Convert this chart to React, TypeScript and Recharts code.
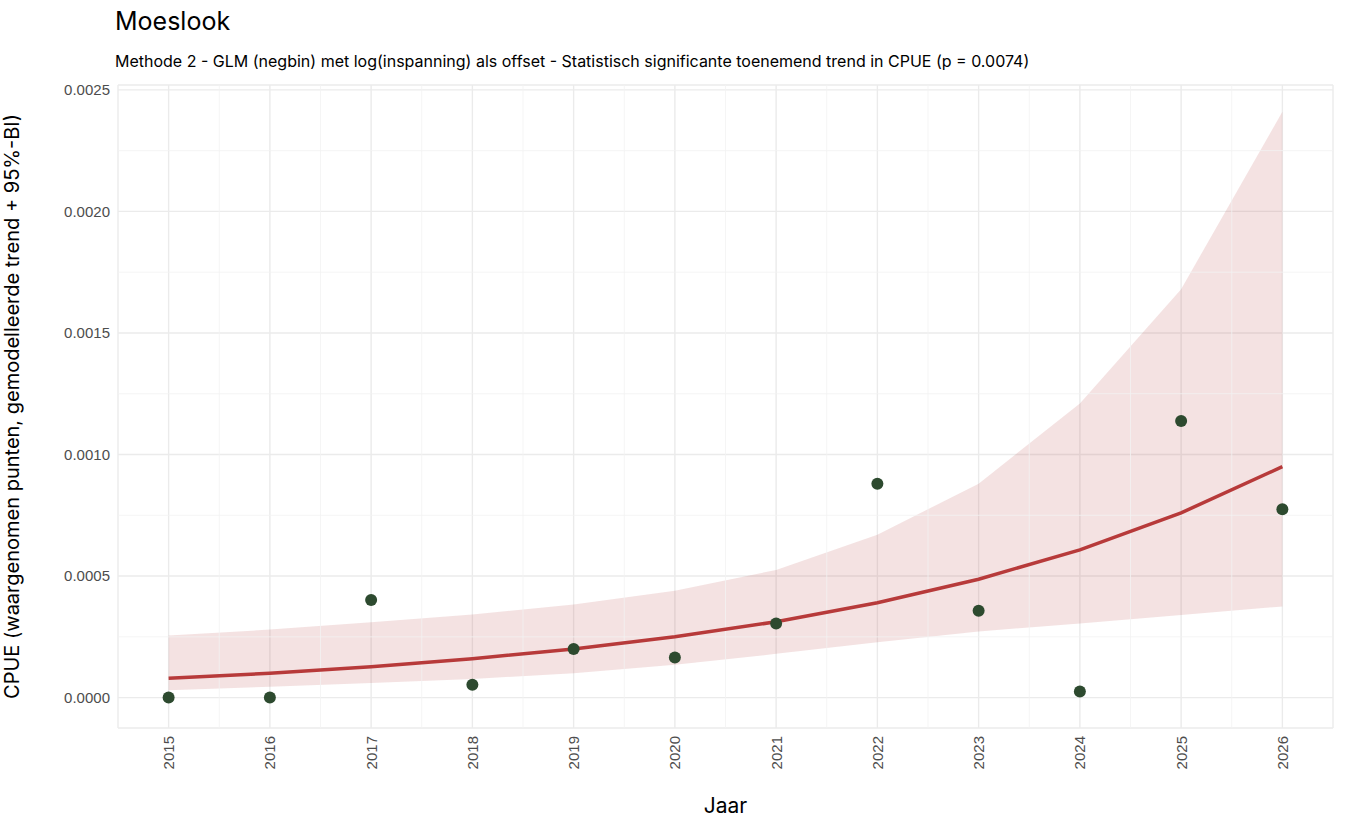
import React from "react";
import { ComposedChart, Area, Line, Scatter, XAxis, YAxis, CartesianGrid, ReferenceLine } from "recharts";

const years = [2015, 2016, 2017, 2018, 2019, 2020, 2021, 2022, 2023, 2024, 2025, 2026];
const observed = [0, 0, 0.000402, 0.000053, 0.0002, 0.000165, 0.000305, 0.00088, 0.000357, 0.000025, 0.001138, 0.000775];
const trend = [0.00008, 0.0001, 0.000127, 0.00016, 0.0002, 0.00025, 0.000312, 0.00039, 0.000487, 0.000608, 0.00076, 0.00095];
const lower = [0.00003, 0.000045, 0.00006, 0.000077, 0.0001, 0.000135, 0.00018, 0.000228, 0.000272, 0.000305, 0.00034, 0.000375];
const upper = [0.000255, 0.00028, 0.00031, 0.000342, 0.000383, 0.00044, 0.000525, 0.00067, 0.00088, 0.00121, 0.00168, 0.00241];
const yTicks = [0, 0.0005, 0.001, 0.0015, 0.002, 0.0025];
const xMinor = [2015.5, 2016.5, 2017.5, 2018.5, 2019.5, 2020.5, 2021.5, 2022.5, 2023.5, 2024.5, 2025.5];
const yMinor = [0.00025, 0.00075, 0.00125, 0.00175, 0.00225];

const data = years.map((y, i) => ({ year: y, obs: observed[i], trend: trend[i], band: [lower[i], upper[i]] }));

const XTick = (p: any) => (
  <text x={p.x} y={p.y} transform={`rotate(-90 ${p.x} ${p.y})`} textAnchor="end" dominantBaseline="central" fontSize={15} fill="#4d4d4d">{p.payload.value}</text>
);

export default function App() {
  const font = "'Liberation Sans', Arial, sans-serif";
  const wide = "Inter, 'Liberation Sans', sans-serif";
  return (
    <div style={{ position: "absolute", left: 0, top: 0, width: 1350, height: 825, background: "#fff", fontFamily: font }}>
      <div style={{ position: "absolute", left: 115, top: 6, fontSize: 25, color: "#000", fontFamily: wide }}>Moeslook</div>
      <div style={{ position: "absolute", left: 115, top: 51, fontSize: 16, color: "#000", fontFamily: wide }}>Methode 2 - GLM (negbin) met log(inspanning) als offset - Statistisch significante toenemend trend in CPUE (p = 0.0074)</div>
      <ComposedChart width={1350} height={825} data={data} margin={{ top: 85, right: 17, bottom: 0, left: 0 }} style={{ fontFamily: font }}>
        <CartesianGrid stroke="#ebebeb" strokeWidth={1.4} />
        {xMinor.map((x) => <ReferenceLine key={"x" + x} x={x} stroke="#f3f3f3" strokeWidth={0.8} />)}
        {yMinor.map((y) => <ReferenceLine key={"y" + y} y={y} stroke="#f3f3f3" strokeWidth={0.8} />)}
        <XAxis dataKey="year" type="number" domain={[2014.5, 2026.5]} ticks={years} axisLine={false} tickLine={false} tick={<XTick />} height={97}
          label={{ value: "Jaar", position: "insideBottom", offset: 12, fontSize: 21, fill: "#000", fontFamily: wide }} />
        <YAxis type="number" domain={[-0.000125, 0.00252]} ticks={yTicks} allowDataOverflow axisLine={false} tickLine={false} width={118}
          tickFormatter={(v: number) => v.toFixed(4)} tick={{ fontSize: 15, fill: "#4d4d4d" }}
          label={{ value: "CPUE (waargenomen punten, gemodelleerde trend + 95%-BI)", angle: -90, position: "insideLeft", offset: 12, fontSize: 20, fill: "#000", fontFamily: wide, style: { textAnchor: "middle" } }} />
        <Area dataKey="band" stroke="none" fill="#b73a3a" fillOpacity={0.15} isAnimationActive={false} />
        <Line dataKey="trend" stroke="#b73a3a" strokeWidth={3.5} dot={false} isAnimationActive={false} />
        <Scatter dataKey="obs" fill="#2d4a2f" isAnimationActive={false} shape={(p: any) => <circle cx={p.cx} cy={p.cy} r={6} fill="#2d4a2f" />} />
      </ComposedChart>
    </div>
  );
}
